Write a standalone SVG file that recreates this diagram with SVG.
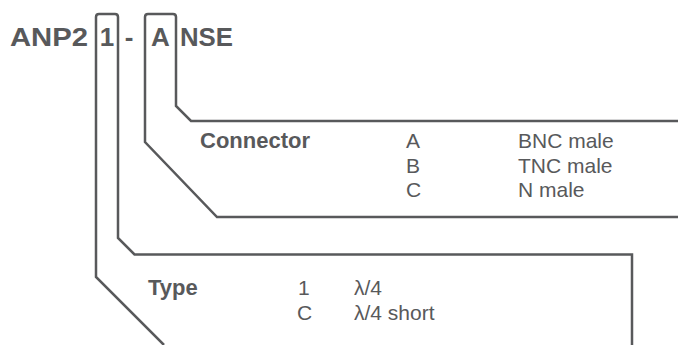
<svg xmlns="http://www.w3.org/2000/svg" width="678" height="345" viewBox="0 0 678 345">
<style>
.ln{fill:none;stroke:#58595b;stroke-width:2.5;stroke-linejoin:miter}
.t{font-family:"Liberation Sans",Arial,sans-serif;font-size:21px;fill:#58595b}
.b{font-weight:bold;font-size:22px}
.ti{font-family:"Liberation Sans",Arial,sans-serif;font-size:26px;font-weight:bold;fill:#58595b}
</style>
<rect width="678" height="345" fill="#fff"/>
<g id="title">
<text class="ti" x="10" y="46" textLength="78" lengthAdjust="spacingAndGlyphs">ANP2</text>
<text class="ti" x="107" y="46" text-anchor="middle">1</text>
<text class="ti" x="129" y="46" text-anchor="middle">-</text>
<text class="ti" x="160.5" y="46" text-anchor="middle">A</text>
<text class="ti" x="180" y="46" textLength="53" lengthAdjust="spacingAndGlyphs">NSE</text>
</g>
<g id="connectors">
<path class="ln" d="M164,345 L96,277 L96,17 Q96,14 99,14 L115,14 Q118,14 118,17 L118,238 L134.5,254.5 L632,254.5 L632,345"/>
<path class="ln" d="M678,217 L217,217 L145,142 L145,17 Q145,14 148,14 L173,14 Q176,14 176,17 L176,106 L191,121 L678,121"/>
</g>
<g id="connector-node">
<text class="t b" x="200" y="148" textLength="110" lengthAdjust="spacingAndGlyphs">Connector</text>
<text class="t"><tspan x="406" y="148">A</tspan><tspan x="406" y="172.5">B</tspan><tspan x="406" y="197">C</tspan></text>
<text class="t"><tspan x="518" y="148">BNC male</tspan><tspan x="518" y="172.5">TNC male</tspan><tspan x="518" y="197">N male</tspan></text>
</g>
<g id="type-node">
<text class="t b" x="148" y="295">Type</text>
<text class="t"><tspan x="298" y="295">1</tspan><tspan x="297" y="319.5">C</tspan></text>
<text class="t"><tspan x="354" y="295">λ/4</tspan><tspan x="354" y="319.5">λ/4 short</tspan></text>
</g>
</svg>
